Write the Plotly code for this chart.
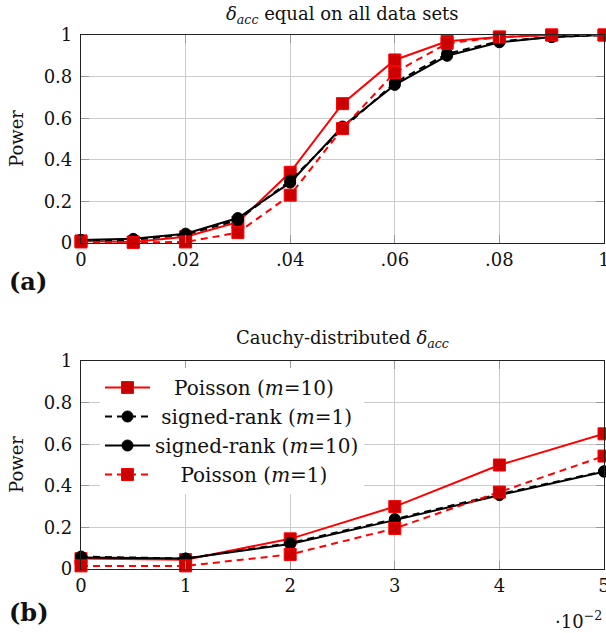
import plotly.graph_objects as go

# ---------------- data ----------------
# (a) delta_acc equal on all data sets
x_a = [0, 0.01, 0.02, 0.03, 0.04, 0.05, 0.06, 0.07, 0.08, 0.09, 0.10]
a_poisson_m10 = [0.01, 0.005, 0.03, 0.10, 0.34, 0.67, 0.88, 0.97, 0.99, 1.0, 1.0]
a_signed_m1 = [0.01, 0.015, 0.04, 0.11, 0.30, 0.55, 0.77, 0.91, 0.97, 0.99, 1.0]
a_signed_m10 = [0.015, 0.02, 0.045, 0.12, 0.29, 0.56, 0.76, 0.90, 0.965, 0.99, 1.0]
a_poisson_m1 = [0.005, 0.003, 0.005, 0.05, 0.23, 0.55, 0.82, 0.96, 0.99, 1.0, 1.0]
a_xtickvals = [0, 0.02, 0.04, 0.06, 0.08, 0.10]
a_xticktext = ["0", ".02", ".04", ".06", ".08", "1"]

# (b) Cauchy-distributed delta_acc  (x in units of 10^-2)
x_b = [0, 1, 2, 3, 4, 5]
b_poisson_m10 = [0.05, 0.045, 0.145, 0.30, 0.50, 0.65]
b_signed_m1 = [0.06, 0.05, 0.125, 0.24, 0.36, 0.47]
b_signed_m10 = [0.055, 0.05, 0.12, 0.235, 0.355, 0.468]
b_poisson_m1 = [0.015, 0.015, 0.07, 0.195, 0.37, 0.543]
b_xtickvals = [0, 1, 2, 3, 4, 5]
b_xticktext = ["0", "1", "2", "3", "4", "5"]

y_tickvals = [0, 0.2, 0.4, 0.6, 0.8, 1]
y_ticktext = ["0", "0.2", "0.4", "0.6", "0.8", "1"]

labels = [
    "\u00a0\u00a0\u00a0Poisson (<i>m</i>=10)",
    "\u00a0signed-rank (<i>m</i>=1)",
    "signed-rank (<i>m</i>=10)",
    "\u00a0\u00a0\u00a0\u00a0Poisson (<i>m</i>=1)",
]

RED = "#ff0000"
RED_FILL = "#cc0000"
BLACK = "#000000"
FONT = "DejaVu Serif"

styles = [
    dict(color=RED, dash="solid", symbol="square", fill=RED_FILL, size=12),
    dict(color=BLACK, dash="7px,5px", symbol="circle", fill=BLACK, size=11),
    dict(color=BLACK, dash="solid", symbol="circle", fill=BLACK, size=11),
    dict(color=RED, dash="7px,5px", symbol="square", fill=RED_FILL, size=12),
]

fig = go.Figure()

series_a = [a_poisson_m10, a_signed_m1, a_signed_m10, a_poisson_m1]
series_b = [b_poisson_m10, b_signed_m1, b_signed_m10, b_poisson_m1]

for i, (ya, st) in enumerate(zip(series_a, styles)):
    fig.add_trace(go.Scatter(
        x=x_a, y=ya, mode="lines+markers", xaxis="x", yaxis="y",
        line=dict(color=st["color"], width=2, dash=st["dash"]),
        marker=dict(symbol=st["symbol"], size=st["size"], color=st["fill"],
                    line=dict(color=st["color"], width=1)),
        showlegend=False, name=labels[i], cliponaxis=False,
    ))

for i, (yb, st) in enumerate(zip(series_b, styles)):
    fig.add_trace(go.Scatter(
        x=x_b, y=yb, mode="lines+markers", xaxis="x2", yaxis="y2",
        line=dict(color=st["color"], width=2, dash=st["dash"]),
        marker=dict(symbol=st["symbol"], size=st["size"], color=st["fill"],
                    line=dict(color=st["color"], width=1)),
        showlegend=True, name=labels[i], legendgroup="g%d" % i, cliponaxis=False,
    ))

W, H = 606, 633
L, R, T, B = 81, 2, 35, 64
plot_w = W - L - R
plot_h = H - T - B
top_lo = (569 - 243) / plot_h
bot_hi = (569 - 361) / plot_h

axis_common = dict(
    showgrid=True, gridcolor="#cccccc", gridwidth=1,
    showline=True, linecolor="#222222", linewidth=1.2, mirror="ticks",
    ticks="inside", ticklen=8, tickcolor="#999999", tickwidth=1,
    tickfont=dict(family=FONT, size=18, color="#111111"),
    zeroline=False, ticklabeloverflow="allow", automargin=False,
)

fig.update_layout(
    width=W, height=H,
    margin=dict(l=L, r=R, t=T, b=B, autoexpand=False),
    plot_bgcolor="white", paper_bgcolor="white",
    font=dict(family=FONT, size=18, color="#111111"),
    xaxis=dict(domain=[0, 1], range=[0, 0.1], tickvals=a_xtickvals, ticktext=a_xticktext,
               anchor="y", **axis_common),
    yaxis=dict(domain=[top_lo, 1], range=[0, 1], tickvals=y_tickvals, ticktext=y_ticktext,
               anchor="x", ticklabelstandoff=4, **axis_common),
    xaxis2=dict(domain=[0, 1], range=[0, 5], tickvals=b_xtickvals, ticktext=b_xticktext,
                anchor="y2", **axis_common),
    yaxis2=dict(domain=[0, bot_hi], range=[0, 1], tickvals=y_tickvals, ticktext=y_ticktext,
                anchor="x2", ticklabelstandoff=4, **axis_common),
    legend=dict(
        x=(100 - L) / plot_w, y=(569 - 368) / plot_h, xref="paper", yref="paper",
        xanchor="left", yanchor="top",
        bgcolor="white", borderwidth=0, itemwidth=45, tracegroupgap=5,
        font=dict(family=FONT, size=20, color="#111111"),
        traceorder="normal",
    ),
    showlegend=True,
)

ann_font = dict(family=FONT, size=18, color="#111111")
fig.add_annotation(text="<i>δ<sub>acc</sub></i> equal on all data sets", xref="paper", yref="paper",
                   x=0.5, y=(569 - 15) / plot_h, showarrow=False, font=ann_font,
                   xanchor="center", yanchor="middle")
fig.add_annotation(text="Cauchy-distributed <i>δ<sub>acc</sub></i>", xref="paper", yref="paper",
                   x=0.5, y=(569 - 339) / plot_h, showarrow=False, font=ann_font,
                   xanchor="center", yanchor="middle")
for yc in [139, 465]:
    fig.add_annotation(text="Power", xref="paper", yref="paper",
                       x=(16 - L) / plot_w, y=(569 - yc) / plot_h, showarrow=False,
                       font=ann_font, textangle=-90, xanchor="center", yanchor="middle")
fig.add_annotation(text="<b>(a)</b>", xref="paper", yref="paper",
                   x=(7 - L) / plot_w, y=(569 - 281) / plot_h, showarrow=False,
                   font=dict(family=FONT, size=24, color="#111111"), xanchor="left", yanchor="middle")
fig.add_annotation(text="<b>(b)</b>", xref="paper", yref="paper",
                   x=(7 - L) / plot_w, y=(569 - 612) / plot_h, showarrow=False,
                   font=dict(family=FONT, size=24, color="#111111"), xanchor="left", yanchor="middle")
fig.add_annotation(text="·10<sup>−2</sup>", xref="paper", yref="paper",
                   x=1.0, y=(569 - 620) / plot_h, showarrow=False,
                   font=ann_font, xanchor="right", yanchor="middle")

fig.write_html("out.html", config={"displayModeBar": False},
               post_script="document.body.style.margin='0';document.body.style.overflow='hidden';")
